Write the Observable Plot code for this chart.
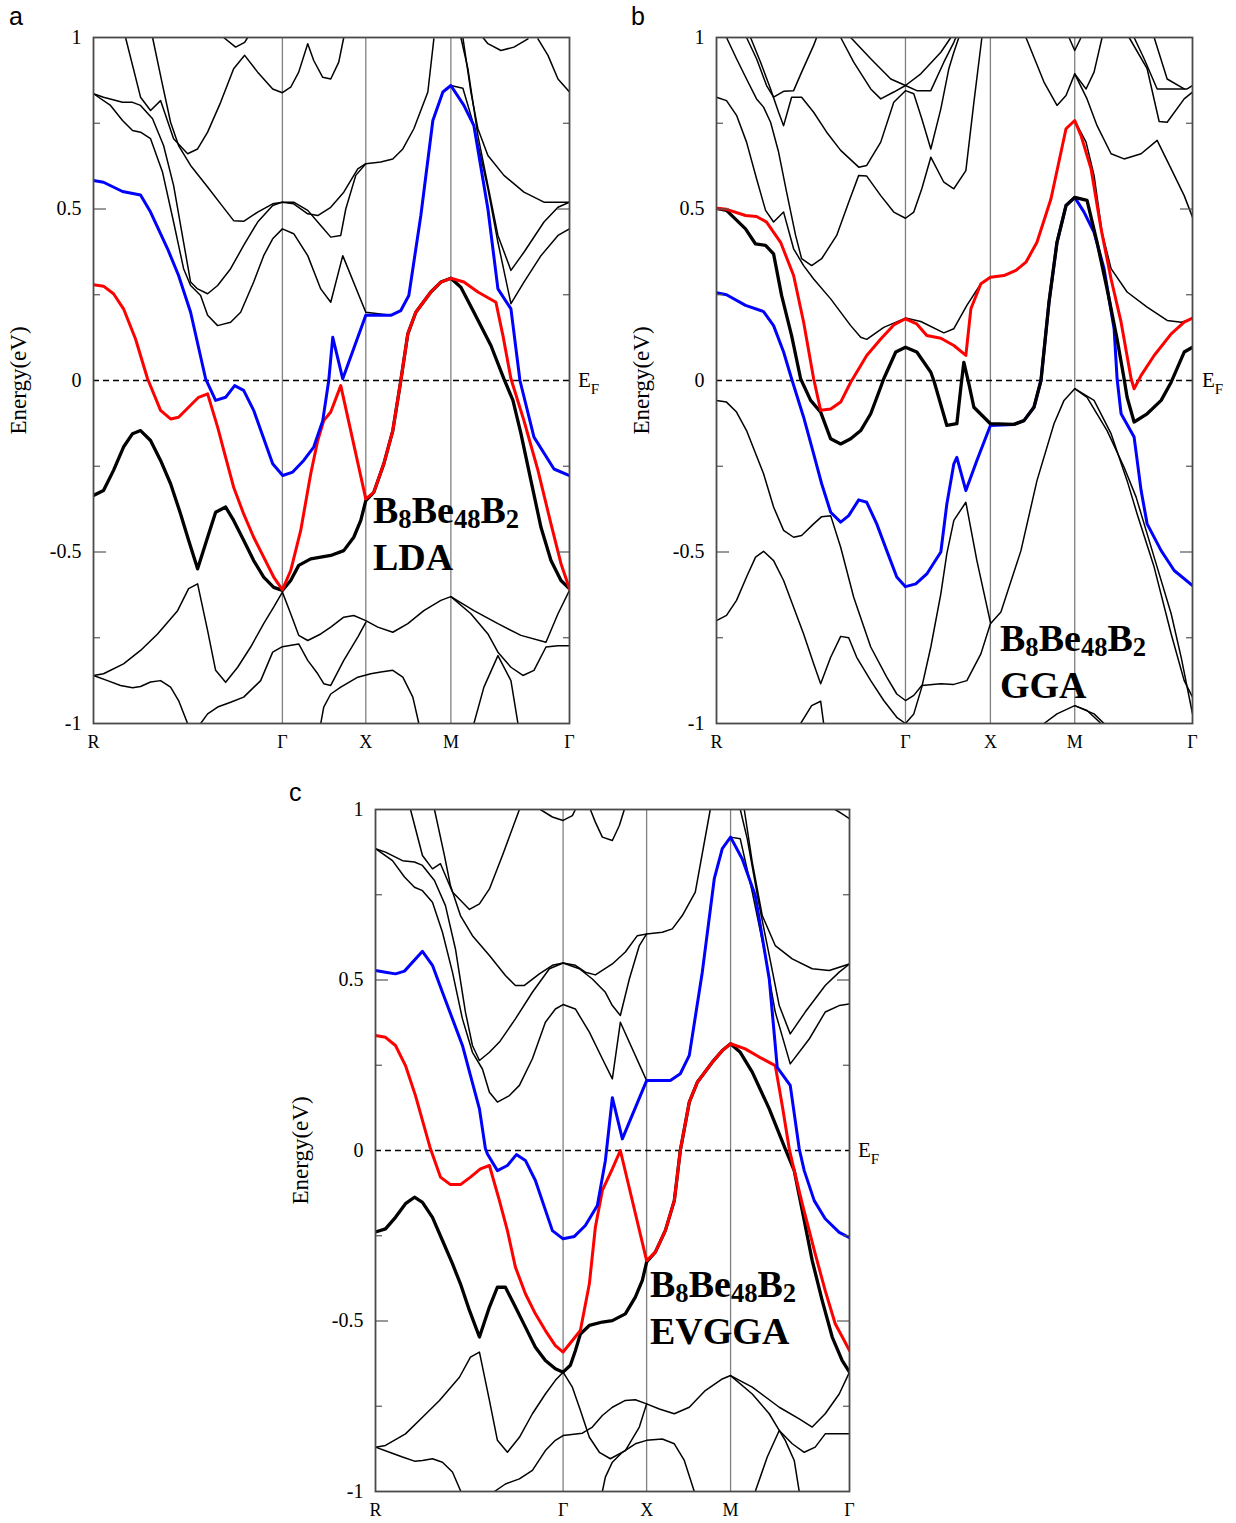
<!DOCTYPE html>
<html><head><meta charset="utf-8">
<script src="https://cdn.jsdelivr.net/npm/d3@7"></script>
<script src="https://cdn.jsdelivr.net/npm/@observablehq/plot@0.6"></script>
<style>
body{margin:0;background:#fff;}
#root{position:relative;width:1236px;height:1523px;overflow:hidden;background:#fff;}
.letter{position:absolute;font-family:"Liberation Sans",Arial,sans-serif;font-size:25px;line-height:30px;color:#000;}
.ef{position:absolute;font-family:"Liberation Serif",serif;font-size:21px;line-height:24px;color:#000;}
.ef span{font-size:0.72em;position:relative;top:0.45em;}
.ann{position:absolute;font-family:"Liberation Serif",serif;font-weight:bold;font-size:38px;line-height:43px;color:#000;white-space:nowrap;}
.ann span{font-size:0.7em;position:relative;top:0.2em;}
</style></head><body><div id="root"></div>
<script>
// ---------- axis / path labels ----------
const kLabels = ["R","Γ","X","M","Γ"];
const yTicks = [1,0.5,0,-0.5,-1];
const yMajor = [0.5,-0.5];
const yMinor = [0.75,0.25,-0.25,-0.75];
const kA = [0,1.887,2.72,3.57,4.755];
const kB = [0,1.887,2.735,3.577,4.753];
const kC = [0,1.877,2.713,3.553,4.743];

// ---------- panel a (LDA) ----------
const aBlue = [[0,0.583],[0.10,0.578],[0.29,0.551],[0.47,0.541],[0.57,0.491],[0.74,0.384],[0.85,0.306],[0.97,0.199],[1.12,0.005],[1.22,-0.058],[1.32,-0.049],[1.41,-0.015],[1.50,-0.029],[1.60,-0.087],[1.79,-0.243],[1.89,-0.277],[1.99,-0.267],[2.10,-0.233],[2.20,-0.194],[2.29,-0.117],[2.35,0],[2.39,0.126],[2.49,0.005],[2.72,0.19],[2.97,0.19],[3.07,0.204],[3.15,0.248],[3.27,0.481],[3.39,0.758],[3.49,0.841],[3.57,0.86],[3.70,0.802],[3.80,0.743],[3.94,0.5],[4.04,0.267],[4.17,0.209],[4.26,0],[4.40,-0.165],[4.60,-0.258],[4.755,-0.277]];
const aRed = [[0,0.279],[0.10,0.275],[0.20,0.253],[0.30,0.209],[0.42,0.121],[0.54,0.005],[0.67,-0.087],[0.77,-0.112],[0.85,-0.107],[0.95,-0.078],[1.05,-0.049],[1.14,-0.039],[1.24,-0.136],[1.32,-0.224],[1.40,-0.311],[1.50,-0.389],[1.60,-0.457],[1.70,-0.515],[1.80,-0.573],[1.887,-0.61],[1.97,-0.554],[2.07,-0.437],[2.17,-0.272],[2.24,-0.175],[2.30,-0.117],[2.37,-0.092],[2.47,-0.015],[2.72,-0.345],[2.80,-0.326],[2.90,-0.243],[2.99,-0.146],[3.07,0],[3.14,0.136],[3.22,0.199],[3.37,0.258],[3.47,0.287],[3.57,0.298],[3.70,0.287],[3.84,0.258],[4.02,0.228],[4.09,0.131],[4.17,0.005],[4.30,-0.117],[4.44,-0.262],[4.57,-0.418],[4.67,-0.534],[4.755,-0.607]];
const aBlack = [[0,-0.335],[0.10,-0.321],[0.20,-0.262],[0.30,-0.194],[0.39,-0.155],[0.47,-0.146],[0.57,-0.175],[0.67,-0.233],[0.77,-0.301],[0.87,-0.389],[0.95,-0.466],[1.04,-0.549],[1.14,-0.457],[1.22,-0.384],[1.32,-0.369],[1.40,-0.408],[1.50,-0.466],[1.60,-0.525],[1.70,-0.573],[1.80,-0.603],[1.887,-0.612],[1.97,-0.583],[2.05,-0.539],[2.17,-0.52],[2.37,-0.51],[2.50,-0.496],[2.60,-0.457],[2.67,-0.408],[2.72,-0.35],[2.80,-0.326],[2.90,-0.243],[2.99,-0.146],[3.07,0],[3.14,0.136],[3.22,0.199],[3.37,0.258],[3.47,0.287],[3.57,0.298],[3.67,0.272],[3.80,0.199],[3.97,0.102],[4.10,0.005],[4.19,-0.058],[4.27,-0.155],[4.37,-0.292],[4.47,-0.428],[4.57,-0.525],[4.67,-0.583],[4.755,-0.607]];
const aThin = [
  [[0.32,1.0],[0.47,0.826],[0.57,0.787],[0.67,0.816],[0.80,0.705],[0.94,0.661],[1.04,0.675],[1.14,0.724],[1.27,0.811],[1.40,0.909],[1.51,0.948],[1.64,0.899],[1.79,0.85],[1.887,0.839],[1.97,0.855],[2.05,0.899],[2.14,0.982],[2.20,0.933],[2.29,0.884],[2.37,0.879],[2.45,0.928],[2.50,1.0]],
  [[0.59,1.0],[0.69,0.861],[0.77,0.753],[0.85,0.685],[0.97,0.627],[1.14,0.564],[1.27,0.515],[1.40,0.466],[1.50,0.464],[1.64,0.491],[1.79,0.515],[1.887,0.52],[2.00,0.515],[2.14,0.486],[2.24,0.481],[2.37,0.505],[2.50,0.549],[2.64,0.617],[2.72,0.632],[2.87,0.637],[2.99,0.646],[3.09,0.675],[3.20,0.734],[3.34,0.841],[3.40,0.996]],
  [[0,0.836],[0.10,0.826],[0.29,0.811],[0.39,0.811],[0.47,0.802],[0.59,0.763],[0.70,0.685],[0.80,0.569],[0.90,0.403],[0.97,0.287],[1.04,0.267],[1.14,0.253],[1.24,0.277],[1.37,0.326],[1.50,0.394],[1.64,0.462],[1.79,0.51],[1.887,0.52],[2.00,0.52],[2.14,0.496],[2.27,0.452],[2.37,0.418],[2.47,0.423],[2.52,0.5],[2.62,0.598],[2.72,0.632]],
  [[0,0.836],[0.17,0.802],[0.29,0.758],[0.39,0.729],[0.47,0.724],[0.57,0.705],[0.69,0.607],[0.80,0.462],[0.90,0.326],[0.97,0.277],[1.07,0.248],[1.14,0.19],[1.24,0.16],[1.37,0.17],[1.47,0.199],[1.60,0.287],[1.70,0.364],[1.79,0.413],[1.887,0.442],[2.00,0.428],[2.14,0.364],[2.27,0.267],[2.37,0.228],[2.49,0.364],[2.72,0.199],[2.97,0.19],[3.07,0.204],[3.15,0.248],[3.27,0.481],[3.39,0.758],[3.49,0.841],[3.57,0.86],[3.69,0.852],[3.80,0.743],[3.94,0.559],[4.04,0.403],[4.17,0.224],[4.30,0.287],[4.47,0.364],[4.64,0.423],[4.755,0.442]],
  [[3.67,1.0],[3.74,0.909],[3.84,0.714],[3.94,0.569],[4.04,0.423],[4.17,0.321],[4.30,0.374],[4.50,0.462],[4.64,0.505],[4.755,0.52]],
  [[3.69,1.0],[3.77,0.841],[3.84,0.734],[3.94,0.656],[4.10,0.598],[4.30,0.549],[4.50,0.52],[4.755,0.52]],
  [[3.89,1.0],[3.94,0.982],[4.07,0.962],[4.20,0.972],[4.34,0.996]],
  [[4.44,0.996],[4.54,0.948],[4.64,0.879],[4.755,0.841]],
  [[1.30,1.0],[1.42,0.972],[1.51,0.986],[1.54,1.0]],
  [[0,-0.86],[0.10,-0.855],[0.30,-0.826],[0.47,-0.787],[0.64,-0.739],[0.84,-0.671],[0.95,-0.607],[1.04,-0.593],[1.14,-0.729],[1.22,-0.845],[1.32,-0.88],[1.44,-0.836],[1.57,-0.777],[1.70,-0.709],[1.80,-0.661],[1.887,-0.617],[1.97,-0.68],[2.05,-0.743],[2.14,-0.758],[2.27,-0.739],[2.37,-0.719],[2.50,-0.69],[2.60,-0.685],[2.72,-0.7],[2.84,-0.719],[2.99,-0.734],[3.14,-0.709],[3.30,-0.671],[3.47,-0.641],[3.57,-0.63],[3.80,-0.671],[4.04,-0.709],[4.27,-0.743],[4.52,-0.763],[4.64,-0.68],[4.755,-0.612]],
  [[0,-0.86],[0.14,-0.875],[0.27,-0.889],[0.39,-0.896],[0.47,-0.892],[0.57,-0.879],[0.67,-0.875],[0.77,-0.894],[0.85,-0.933],[0.94,-1.0]],
  [[1.07,-1.0],[1.14,-0.972],[1.24,-0.952],[1.37,-0.938],[1.50,-0.923],[1.67,-0.875],[1.79,-0.792],[1.887,-0.776],[2.05,-0.768],[2.14,-0.816],[2.24,-0.855],[2.30,-0.884],[2.37,-0.889],[2.50,-0.816],[2.64,-0.748],[2.72,-0.705]],
  [[3.57,-0.63],[3.77,-0.68],[3.94,-0.739],[4.04,-0.792],[4.17,-0.836],[4.29,-0.86],[4.40,-0.845],[4.52,-0.777],[4.64,-0.773],[4.755,-0.773]],
  [[2.27,-1.0],[2.30,-0.952],[2.37,-0.914],[2.47,-0.894],[2.64,-0.865],[2.77,-0.855],[2.87,-0.85],[2.99,-0.845],[3.09,-0.865],[3.19,-0.923],[3.25,-1.0]],
  [[3.80,-1.0],[3.90,-0.894],[4.04,-0.802],[4.17,-0.875],[4.24,-1.0]]
];

// ---------- panel b (GGA) ----------
const bBlue = [[0,0.256],[0.10,0.25],[0.29,0.219],[0.47,0.201],[0.57,0.16],[0.67,0.083],[0.75,0.005],[0.87,-0.107],[0.97,-0.214],[1.05,-0.301],[1.14,-0.384],[1.24,-0.413],[1.32,-0.394],[1.42,-0.348],[1.50,-0.355],[1.60,-0.418],[1.70,-0.496],[1.80,-0.573],[1.887,-0.601],[1.99,-0.593],[2.10,-0.564],[2.24,-0.5],[2.30,-0.36],[2.37,-0.243],[2.40,-0.224],[2.49,-0.321],[2.60,-0.233],[2.735,-0.131],[2.97,-0.128],[3.07,-0.117],[3.17,-0.078],[3.24,0],[3.32,0.228],[3.40,0.403],[3.49,0.51],[3.577,0.534],[3.67,0.491],[3.77,0.432],[3.87,0.326],[3.97,0.151],[4.00,0.005],[4.04,-0.097],[4.17,-0.165],[4.24,-0.321],[4.30,-0.418],[4.44,-0.496],[4.57,-0.554],[4.753,-0.598]];
const bRed = [[0,0.502],[0.10,0.499],[0.29,0.481],[0.40,0.478],[0.50,0.462],[0.64,0.403],[0.77,0.306],[0.87,0.17],[0.97,0.005],[1.04,-0.087],[1.14,-0.083],[1.24,-0.063],[1.34,-0.005],[1.50,0.073],[1.64,0.121],[1.77,0.162],[1.887,0.18],[2.00,0.165],[2.10,0.131],[2.24,0.123],[2.37,0.102],[2.49,0.073],[2.54,0.209],[2.64,0.282],[2.735,0.301],[2.87,0.306],[2.99,0.321],[3.09,0.345],[3.20,0.403],[3.34,0.53],[3.49,0.734],[3.577,0.758],[3.64,0.714],[3.74,0.617],[3.84,0.442],[3.94,0.296],[4.04,0.17],[4.14,0.005],[4.17,-0.024],[4.24,0.015],[4.37,0.073],[4.54,0.136],[4.67,0.17],[4.753,0.182]];
const bBlack = [[0,0.502],[0.10,0.496],[0.29,0.442],[0.39,0.398],[0.49,0.394],[0.57,0.369],[0.65,0.248],[0.75,0.131],[0.84,0.005],[0.94,-0.058],[1.04,-0.092],[1.14,-0.17],[1.24,-0.185],[1.34,-0.17],[1.44,-0.146],[1.54,-0.097],[1.64,-0.019],[1.67,0.005],[1.79,0.083],[1.887,0.097],[2.00,0.083],[2.14,0.024],[2.17,0],[2.30,-0.131],[2.40,-0.126],[2.44,-0.02],[2.47,0.053],[2.52,-0.01],[2.57,-0.078],[2.735,-0.126],[2.97,-0.128],[3.07,-0.117],[3.17,-0.078],[3.24,0],[3.32,0.228],[3.40,0.403],[3.49,0.51],[3.577,0.534],[3.70,0.525],[3.80,0.403],[3.90,0.267],[4.00,0.121],[4.07,0.005],[4.10,-0.049],[4.17,-0.121],[4.30,-0.097],[4.44,-0.058],[4.54,-0.005],[4.67,0.083],[4.753,0.097]];
const bThin = [
  [[0.30,1.0],[0.40,0.938],[0.50,0.86],[0.57,0.826],[0.67,0.843],[0.77,0.845],[0.85,0.899],[0.97,0.977],[1.00,1.0]],
  [[0.34,1.0],[0.44,0.928],[0.54,0.85],[0.62,0.782],[0.67,0.743],[0.75,0.826],[0.85,0.826],[0.97,0.782],[1.10,0.724],[1.24,0.671],[1.42,0.622],[1.50,0.627],[1.64,0.695],[1.77,0.811],[1.887,0.845],[1.97,0.836],[2.05,0.763],[2.14,0.675],[2.24,0.792],[2.32,0.909],[2.37,0.957],[2.42,1.0]],
  [[0.10,1.0],[0.20,0.938],[0.30,0.879],[0.40,0.821],[0.47,0.797],[0.54,0.753],[0.62,0.666],[0.70,0.549],[0.79,0.423],[0.85,0.355],[0.95,0.335],[1.05,0.355],[1.20,0.423],[1.32,0.52],[1.42,0.598],[1.50,0.596],[1.64,0.539],[1.77,0.491],[1.887,0.473],[1.97,0.491],[2.05,0.559],[2.14,0.651],[2.27,0.578],[2.37,0.559],[2.49,0.612],[2.57,0.811],[2.65,1.0]],
  [[0,0.826],[0.10,0.816],[0.20,0.773],[0.30,0.695],[0.40,0.588],[0.49,0.496],[0.57,0.462],[0.67,0.491],[0.77,0.384],[0.87,0.335],[0.97,0.296],[1.14,0.238],[1.34,0.16],[1.44,0.126],[1.50,0.12],[1.67,0.155],[1.887,0.182],[2.04,0.172],[2.27,0.139],[2.37,0.151],[2.50,0.219],[2.64,0.282],[2.735,0.301],[2.87,0.306],[2.99,0.321],[3.09,0.345],[3.20,0.403],[3.34,0.53],[3.49,0.734],[3.577,0.758],[3.69,0.695],[3.77,0.598],[3.85,0.432],[3.94,0.326],[4.10,0.258],[4.30,0.214],[4.50,0.175],[4.64,0.17],[4.753,0.18]],
  [[1.24,1.0],[1.37,0.928],[1.54,0.85],[1.64,0.821],[1.77,0.841],[1.887,0.86],[2.00,0.845],[2.14,0.845],[2.27,0.928],[2.37,0.986],[2.39,1.0]],
  [[1.34,1.0],[1.54,0.938],[1.74,0.879],[1.887,0.86],[2.04,0.894],[2.24,0.957],[2.34,1.0]],
  [[3.09,1.0],[3.27,0.87],[3.40,0.802],[3.49,0.831],[3.577,0.894],[3.69,0.85],[3.77,0.899],[3.85,1.0]],
  [[3.577,0.894],[3.70,0.821],[3.80,0.743],[3.94,0.661],[4.07,0.646],[4.24,0.661],[4.40,0.7],[4.54,0.617],[4.67,0.539],[4.753,0.476]],
  [[3.52,1.0],[3.577,0.962],[3.64,1.0]],
  [[4.17,1.0],[4.27,0.938],[4.40,0.85],[4.70,0.85],[4.753,0.86]],
  [[4.37,1.0],[4.50,0.879],[4.67,0.85]],
  [[4.12,1.0],[4.30,0.909],[4.42,0.755],[4.50,0.753],[4.67,0.821],[4.753,0.841]],
  [[0,-0.058],[0.10,-0.063],[0.20,-0.092],[0.30,-0.146],[0.47,-0.272],[0.57,-0.369],[0.67,-0.437],[0.77,-0.457],[0.85,-0.452],[0.97,-0.418],[1.05,-0.397],[1.14,-0.394],[1.24,-0.486],[1.37,-0.632],[1.54,-0.777],[1.70,-0.865],[1.80,-0.914],[1.887,-0.933],[1.97,-0.918],[2.05,-0.889],[2.24,-0.884],[2.37,-0.886],[2.50,-0.875],[2.64,-0.797],[2.735,-0.709],[2.84,-0.675],[3.04,-0.496],[3.20,-0.292],[3.37,-0.126],[3.47,-0.058],[3.577,-0.024],[3.77,-0.058],[3.94,-0.155],[4.10,-0.292],[4.20,-0.389],[4.37,-0.544],[4.54,-0.739],[4.67,-0.875],[4.753,-0.923]],
  [[3.577,-0.024],[3.70,-0.049],[3.90,-0.146],[4.07,-0.253],[4.19,-0.34],[4.27,-0.418],[4.40,-0.544],[4.54,-0.68],[4.64,-0.807],[4.753,-0.972]],
  [[0,-0.7],[0.10,-0.685],[0.20,-0.641],[0.30,-0.573],[0.39,-0.515],[0.47,-0.498],[0.57,-0.525],[0.67,-0.583],[0.77,-0.661],[0.87,-0.739],[0.97,-0.826],[1.04,-0.884],[1.14,-0.807],[1.24,-0.746],[1.32,-0.75],[1.40,-0.807],[1.54,-0.875],[1.67,-0.933],[1.80,-0.982],[1.887,-1.0],[1.97,-0.972],[2.05,-0.894],[2.14,-0.777],[2.24,-0.622],[2.30,-0.505],[2.37,-0.408],[2.49,-0.355],[2.60,-0.525],[2.735,-0.705]],
  [[0.84,-1.0],[0.95,-0.948],[1.04,-0.935],[1.07,-1.0]],
  [[3.27,-1.0],[3.40,-0.972],[3.577,-0.948],[3.70,-0.962],[3.84,-1.0]],
  [[3.577,-0.948],[3.77,-0.972],[3.87,-1.0]]
];

// ---------- panel c (EVGGA) ----------
const cBlue = [[0,0.528],[0.10,0.523],[0.20,0.518],[0.29,0.526],[0.47,0.584],[0.57,0.543],[0.67,0.464],[0.77,0.386],[0.87,0.308],[0.95,0.22],[1.04,0.122],[1.10,0.005],[1.12,-0.01],[1.22,-0.059],[1.32,-0.044],[1.41,-0.012],[1.50,-0.029],[1.60,-0.088],[1.77,-0.235],[1.877,-0.259],[1.99,-0.252],[2.10,-0.22],[2.22,-0.161],[2.30,-0.03],[2.37,0.155],[2.47,0.034],[2.713,0.205],[2.95,0.205],[3.05,0.225],[3.14,0.279],[3.27,0.523],[3.39,0.797],[3.47,0.885],[3.553,0.919],[3.67,0.855],[3.80,0.748],[3.94,0.503],[4.02,0.244],[4.15,0.191],[4.24,0.005],[4.29,-0.059],[4.39,-0.147],[4.50,-0.2],[4.64,-0.24],[4.743,-0.256]];
const cRed = [[0,0.337],[0.10,0.332],[0.20,0.308],[0.30,0.249],[0.40,0.161],[0.55,0.005],[0.65,-0.078],[0.75,-0.1],[0.85,-0.1],[0.95,-0.078],[1.05,-0.054],[1.14,-0.044],[1.24,-0.147],[1.32,-0.235],[1.40,-0.342],[1.50,-0.42],[1.60,-0.479],[1.70,-0.528],[1.80,-0.572],[1.877,-0.591],[1.97,-0.557],[2.05,-0.528],[2.14,-0.391],[2.20,-0.225],[2.27,-0.117],[2.37,-0.054],[2.45,0],[2.713,-0.323],[2.80,-0.298],[2.90,-0.235],[2.99,-0.147],[3.05,0],[3.14,0.142],[3.22,0.2],[3.37,0.259],[3.47,0.293],[3.553,0.313],[3.70,0.298],[3.84,0.274],[4.00,0.249],[4.07,0.132],[4.14,0.005],[4.19,-0.059],[4.27,-0.156],[4.40,-0.303],[4.50,-0.411],[4.60,-0.508],[4.69,-0.557],[4.743,-0.587]];
const cBlack = [[0,-0.239],[0.10,-0.23],[0.20,-0.196],[0.30,-0.156],[0.39,-0.137],[0.47,-0.152],[0.57,-0.196],[0.67,-0.264],[0.77,-0.332],[0.85,-0.391],[0.94,-0.469],[1.04,-0.547],[1.14,-0.459],[1.22,-0.401],[1.30,-0.401],[1.40,-0.459],[1.50,-0.518],[1.60,-0.577],[1.70,-0.616],[1.80,-0.64],[1.877,-0.65],[1.95,-0.63],[2.00,-0.587],[2.05,-0.538],[2.14,-0.513],[2.27,-0.503],[2.37,-0.499],[2.50,-0.479],[2.60,-0.43],[2.67,-0.381],[2.713,-0.327],[2.80,-0.298],[2.90,-0.235],[2.99,-0.147],[3.05,0],[3.14,0.142],[3.22,0.2],[3.37,0.259],[3.47,0.293],[3.553,0.313],[3.65,0.288],[3.77,0.23],[3.94,0.122],[4.10,0.005],[4.19,-0.059],[4.27,-0.176],[4.37,-0.323],[4.47,-0.44],[4.57,-0.547],[4.67,-0.616],[4.743,-0.65]];
const cThin = [
  [[0.35,1.0],[0.47,0.865],[0.57,0.826],[0.65,0.841],[0.77,0.758],[0.94,0.707],[1.04,0.723],[1.14,0.767],[1.27,0.865],[1.44,1.0]],
  [[1.65,1.0],[1.77,0.978],[1.877,0.968],[1.97,0.982],[2.00,1.0]],
  [[2.15,1.0],[2.20,0.963],[2.27,0.919],[2.37,0.909],[2.44,0.953],[2.49,1.0]],
  [[0.59,1.0],[0.69,0.865],[0.75,0.777],[0.85,0.689],[0.97,0.63],[1.14,0.572],[1.30,0.513],[1.40,0.484],[1.49,0.484],[1.64,0.518],[1.77,0.543],[1.877,0.55],[2.00,0.543],[2.10,0.523],[2.20,0.515],[2.37,0.547],[2.50,0.582],[2.62,0.63],[2.713,0.635],[2.87,0.64],[2.97,0.65],[3.07,0.689],[3.20,0.758],[3.35,1.0]],
  [[0,0.885],[0.10,0.875],[0.27,0.85],[0.39,0.846],[0.47,0.836],[0.59,0.792],[0.70,0.718],[0.80,0.591],[0.90,0.406],[0.97,0.308],[1.04,0.264],[1.14,0.288],[1.24,0.318],[1.40,0.386],[1.57,0.464],[1.74,0.533],[1.877,0.55],[2.04,0.533],[2.17,0.503],[2.30,0.464],[2.37,0.425],[2.45,0.396],[2.54,0.503],[2.64,0.601],[2.713,0.635]],
  [[0,0.885],[0.17,0.85],[0.29,0.802],[0.39,0.772],[0.47,0.762],[0.57,0.728],[0.67,0.64],[0.77,0.523],[0.87,0.386],[0.97,0.288],[1.07,0.239],[1.14,0.171],[1.22,0.142],[1.34,0.161],[1.44,0.191],[1.57,0.269],[1.70,0.376],[1.80,0.415],[1.877,0.428],[2.00,0.415],[2.14,0.347],[2.27,0.269],[2.37,0.21],[2.45,0.376],[2.713,0.205],[2.95,0.205],[3.05,0.225],[3.14,0.279],[3.27,0.523],[3.39,0.797],[3.47,0.885],[3.553,0.919],[3.65,0.914],[3.77,0.758],[3.90,0.572],[4.00,0.406],[4.15,0.254],[4.34,0.327],[4.50,0.406],[4.64,0.425],[4.743,0.43]],
  [[3.65,1.0],[3.72,0.914],[3.84,0.718],[3.94,0.572],[4.04,0.425],[4.15,0.342],[4.30,0.406],[4.50,0.484],[4.64,0.523],[4.743,0.547]],
  [[3.69,1.0],[3.77,0.846],[3.87,0.689],[4.00,0.601],[4.17,0.562],[4.37,0.533],[4.54,0.528],[4.743,0.547]],
  [[4.60,1.0],[4.67,0.987],[4.743,0.973]],
  [[0,-0.87],[0.10,-0.865],[0.30,-0.831],[0.47,-0.782],[0.64,-0.733],[0.84,-0.665],[0.95,-0.606],[1.04,-0.591],[1.14,-0.733],[1.22,-0.85],[1.32,-0.885],[1.44,-0.841],[1.57,-0.772],[1.70,-0.714],[1.80,-0.674],[1.877,-0.65],[1.97,-0.694],[2.05,-0.762],[2.14,-0.841],[2.24,-0.885],[2.35,-0.904],[2.50,-0.88],[2.64,-0.811],[2.713,-0.743]],
  [[0,-0.87],[0.14,-0.885],[0.27,-0.899],[0.39,-0.911],[0.47,-0.909],[0.57,-0.904],[0.67,-0.914],[0.77,-0.943],[0.85,-0.997]],
  [[1.19,-1.0],[1.30,-0.978],[1.44,-0.963],[1.57,-0.938],[1.70,-0.88],[1.80,-0.85],[1.877,-0.836],[2.07,-0.829],[2.17,-0.811],[2.27,-0.777],[2.37,-0.753],[2.50,-0.733],[2.60,-0.731],[2.713,-0.743],[2.84,-0.758],[2.99,-0.772],[3.14,-0.753],[3.30,-0.704],[3.47,-0.67],[3.553,-0.66],[3.77,-0.694],[4.04,-0.753],[4.24,-0.787],[4.37,-0.811],[4.50,-0.772],[4.64,-0.714],[4.743,-0.65]],
  [[3.553,-0.66],[3.77,-0.714],[3.94,-0.772],[4.04,-0.821],[4.17,-0.86],[4.29,-0.885],[4.40,-0.87],[4.50,-0.831],[4.64,-0.831],[4.743,-0.831]],
  [[2.27,-1.0],[2.30,-0.958],[2.37,-0.914],[2.47,-0.885],[2.60,-0.86],[2.713,-0.85],[2.87,-0.846],[2.99,-0.86],[3.09,-0.909],[3.19,-1.0]],
  [[3.80,-1.0],[3.92,-0.899],[4.04,-0.821],[4.10,-0.85],[4.19,-0.909],[4.24,-1.0]]
];

// ---------- drawing ----------
const root = document.getElementById("root");
function put(el, left, top) { el.style.position = "absolute"; el.style.left = left + "px"; el.style.top = top + "px"; root.appendChild(el); return el; }
function html(cls, inner, left, top) { const d = document.createElement("div"); d.className = cls; d.innerHTML = inner; return put(d, left, top); }

function bandPlot({kpts, thin, layers, width, height, ml, mr, mt, mb}) {
  const thinRows = thin.flatMap((b, i) => b.map(([k, e]) => ({k, e, id: i})));
  const lab = new Map(kpts.map((k, i) => [k, kLabels[i]]));
  const tickOpts = {tickFormat: () => "", label: null, stroke: "#555", strokeWidth: 1.2};
  return Plot.plot({
    width, height, marginLeft: ml, marginRight: mr, marginTop: mt, marginBottom: mb,
    x: {domain: [0, kpts[kpts.length - 1]], axis: null, label: null},
    y: {domain: [-1, 1], axis: null, label: null},
    style: {fontFamily: "Liberation Serif, serif", fontSize: "16px", color: "#000", background: "transparent", overflow: "visible"},
    marks: [
      Plot.ruleX(kpts.slice(1, -1), {stroke: "#808080", strokeWidth: 1.3}),
      Plot.ruleY([0], {stroke: "#000", strokeWidth: 1.4, strokeDasharray: "6,4"}),
      Plot.line(thinRows, {x: "k", y: "e", z: "id", stroke: "#000", strokeWidth: 1.5, clip: true}),
      ...layers.map(([band, color, w]) => Plot.line(band, {x: d => d[0], y: d => d[1], stroke: color, strokeWidth: w, clip: true})),
      Plot.axisY(yMajor, {anchor: "left", tickSize: -13, ...tickOpts}),
      Plot.axisY(yMinor, {anchor: "left", tickSize: -7, ...tickOpts}),
      Plot.axisY(yMajor, {anchor: "right", tickSize: -13, ...tickOpts}),
      Plot.axisY(yMinor, {anchor: "right", tickSize: -7, ...tickOpts}),
      Plot.axisY(yTicks, {anchor: "left", tickSize: 0, tickPadding: 12, tickFormat: d => String(d), label: null, fontSize: 20}),
      Plot.axisX(kpts, {anchor: "bottom", tickSize: 0, tickPadding: 12, tickFormat: d => lab.get(d), label: null, fontSize: 18}),
      Plot.text(["Energy(eV)"], {frameAnchor: "left", textAnchor: "middle", lineAnchor: "middle", rotate: -90, dx: -75, fontSize: 23}),
      Plot.frame({stroke: "#4a4a4a", strokeWidth: 1.8})
    ]
  });
}

put(bandPlot({kpts: kA, thin: aThin, layers: [[aBlack, "#000", 3.3], [aRed, "#ff0000", 3], [aBlue, "#0000ff", 3]],
  width: 609, height: 760, ml: 93, mr: 40, mt: 37, mb: 37}), 0, 0);
put(bandPlot({kpts: kB, thin: bThin, layers: [[bBlue, "#0000ff", 3], [bBlack, "#000", 3.3], [bRed, "#ff0000", 3]],
  width: 612, height: 760, ml: 96, mr: 40, mt: 37, mb: 37}), 620, 0);
put(bandPlot({kpts: kC, thin: cThin, layers: [[cBlack, "#000", 3.3], [cRed, "#ff0000", 3], [cBlue, "#0000ff", 3]],
  width: 629, height: 750, ml: 95, mr: 60, mt: 39, mb: 29}), 280, 770);

html("letter", "a", 9, 1);
html("letter", "b", 631, 1);
html("letter", "c", 289, 777);
html("ef", "E<span>F</span>", 578, 368);
html("ef", "E<span>F</span>", 1202, 368);
html("ef", "E<span>F</span>", 858, 1138);
const formula = "B<span>8</span>Be<span>48</span>B<span>2</span>";
html("ann", formula + "<br>LDA", 373, 489);
html("ann", formula + "<br>GGA", 1000, 617);
html("ann", formula + "<br>EVGGA", 650, 1263);
</script></body></html>
